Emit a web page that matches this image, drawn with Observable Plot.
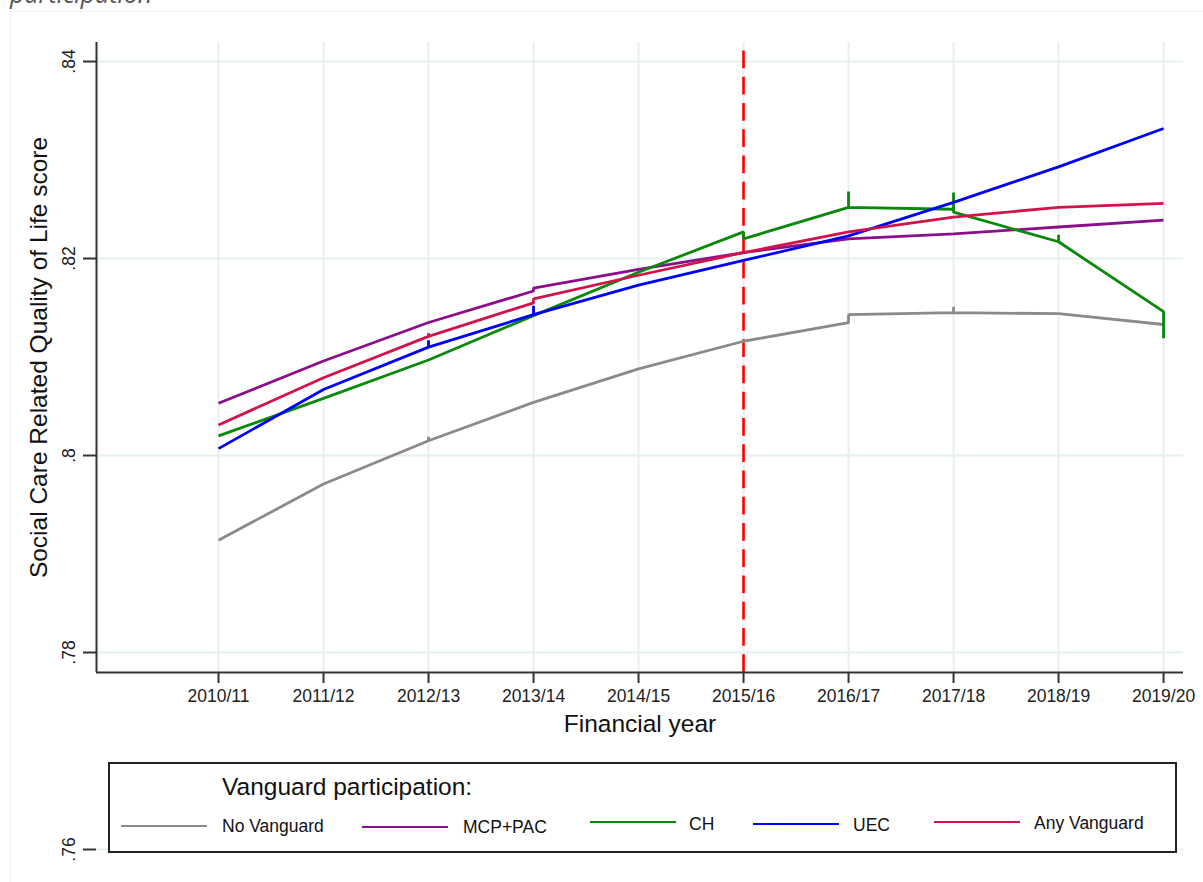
<!DOCTYPE html>
<html>
<head>
<meta charset="utf-8">
<script src="https://cdn.jsdelivr.net/npm/d3@7"></script>
<script src="https://cdn.jsdelivr.net/npm/@observablehq/plot@0.6"></script>
<style>
  html, body { margin: 0; padding: 0; background: #fff; }
  body { width: 1203px; height: 882px; position: relative; overflow: hidden; font-family: "Liberation Sans", Arial, sans-serif; }
  #frame { position: absolute; left: 10px; top: 11px; right: -5px; bottom: -5px; border-left: 1px solid #f3f3f3; border-top: 1px solid #f3f3f3; }
  #cut { position: absolute; left: 10px; top: -24px; font-family: "Open Sans", sans-serif; font-style: italic; font-size: 25px; color: #555; white-space: nowrap; }
  #chart { position: absolute; left: 0; top: 0; }
  #legend { position: absolute; left: 108px; top: 762px; width: 1069px; height: 91px; box-sizing: border-box; border: 2px solid #222; background: #fff; }
  #legend span { position: absolute; white-space: nowrap; line-height: 1; color: #111; }
  #legend .sw { position: absolute; height: 2.8px; }
</style>
</head>
<body>
<div id="frame"></div>
<div id="cut">participation</div>
<div id="chart"></div>
<div id="legend"></div>
<script>
// ---- data ----
const years = ["2010/11","2011/12","2012/13","2013/14","2014/15","2015/16","2016/17","2017/18","2018/19","2019/20"];
const seriesNames = ["No Vanguard","MCP+PAC","CH","UEC","Any Vanguard"];
const seriesColors = ["#8a8a8a","#8b0f8b","#0a880a","#0000ff","#d0144a"];
// an inner list = several values drawn at the same year (steps / spikes)
const noVanguard  = [0.7914, 0.7971, [0.8015, 0.8019, 0.8015], 0.8054, 0.8088, 0.8116, [0.8135, 0.8143], [0.8145, 0.8151, 0.8145], 0.8144, 0.8133];
const mcpPac      = [0.8053, 0.8096, 0.8135, [0.8167, 0.8170], 0.8189, 0.8206, 0.8220, 0.8225, 0.8232, 0.8239];
const ch          = [0.8020, 0.8058, 0.8097, 0.8142, 0.8186, [0.8227, 0.8220], [0.8252, 0.8268, 0.8252], [0.8250, 0.8267, 0.8247], [0.8217, 0.8224, 0.8217], [0.8146, 0.8119]];
const uec         = [0.8007, 0.8067, [0.8110, 0.8117, 0.8110], [0.8143, 0.8152, 0.8143], 0.8173, 0.8198, 0.8223, 0.8257, 0.8293, 0.8332];
const anyVanguard = [0.8031, 0.8079, [0.8121, 0.8124, 0.8121], [0.8155, 0.8159], 0.8183, 0.8206, 0.8227, 0.8242, 0.8252, 0.8256];
const yTicks = [0.76, 0.78, 0.80, 0.82, 0.84];
const yTickLabels = [".76", ".78", ".8", ".82", ".84"];
const policyYear = "2015/16";
const xTitle = "Financial year";
const yTitle = "Social Care Related Quality of Life score";
const legendTitle = "Vanguard participation:";

// ---- build table ----
const allSeries = [noVanguard, mcpPac, ch, uec, anyVanguard];
const points = [];
allSeries.forEach((vals, s) => {
  vals.forEach((v, i) => {
    [].concat(v).forEach(y => points.push({series: seriesNames[s], i, v: y}));
  });
});
const xIdx = d3.range(years.length);

const font = '"Liberation Sans", Arial, sans-serif';
const grid = "#e6eff2";
const axisColor = "#333";

const chart = Plot.plot({
  width: 1203,
  height: 882,
  marginLeft: 96,
  marginRight: 20,
  marginTop: 42,
  marginBottom: 210,
  style: {fontFamily: font, fontSize: "17.5px", color: "#222", background: "transparent"},
  x: {type: "linear", domain: [-1.162, 9.19], axis: null},
  y: {domain: [0.77797, 0.84193], axis: null},
  color: {domain: seriesNames, range: seriesColors},
  marks: [
    Plot.gridY(yTicks, {stroke: grid, strokeOpacity: 1, strokeWidth: 2}),
    Plot.gridX(xIdx, {stroke: grid, strokeOpacity: 1, strokeWidth: 2}),
    Plot.ruleX([years.indexOf(policyYear)], {y1: 0.77797, y2: 0.84107, stroke: "#ff0000", strokeWidth: 2.6, strokeDasharray: "17.8,8.45"}),
    Plot.line(points, {x: "i", y: "v", z: "series", stroke: "series", strokeWidth: 2.8, strokeLinejoin: "miter", strokeLinecap: "butt"}),
    Plot.ruleX([-1.162], {stroke: axisColor, strokeWidth: 2}),
    Plot.ruleY([0.77797], {stroke: axisColor, strokeWidth: 2}),
    Plot.axisX(xIdx, {anchor: "bottom", label: null, tickSize: 11, tickPadding: 6, tickFormat: i => years[i], fontSize: 17.5, stroke: axisColor, strokeWidth: 2, fill: "#222"}),
    Plot.axisY(yTicks, {anchor: "left", label: null, tickSize: 13, tickFormat: () => "", stroke: axisColor, strokeWidth: 2}),
    Plot.text(yTicks, {frameAnchor: "left", y: d => d, text: (d, k) => yTickLabels[k], rotate: -90, dx: -22, textAnchor: "middle", lineAnchor: "bottom", fontSize: 17.5, fill: "#222"}),
    Plot.text([xTitle], {frameAnchor: "bottom", dy: 59, lineAnchor: "bottom", textAnchor: "middle", fontSize: 24.5, fill: "#111"}),
    Plot.text([yTitle], {frameAnchor: "left", dx: -50, rotate: -90, lineAnchor: "bottom", textAnchor: "middle", fontSize: 24.5, fill: "#111"})
  ]
});
document.getElementById("chart").appendChild(chart);

// ---- legend ----
const lg = document.getElementById("legend");
const inner = {x: 110, y: 764};
function span(text, left, baseline, fs) {
  const el = document.createElement("span");
  el.textContent = text;
  el.style.fontSize = fs + "px";
  el.style.left = (left - inner.x) + "px";
  el.style.top = (baseline - 0.8465 * fs - inner.y) + "px";
  lg.appendChild(el);
}
span(legendTitle, 222, 796, 24.5);
const swatchX = [121, 362, 590, 753, 934];
const swatchY = [826, 827, 822, 824, 822];
const labelX = [222, 463, 689, 853, 1034];
const labelBase = [833, 834, 831, 832, 830];
seriesNames.forEach((name, k) => {
  const sw = document.createElement("div");
  sw.className = "sw";
  sw.style.left = (swatchX[k] - inner.x) + "px";
  sw.style.width = "86px";
  sw.style.top = (swatchY[k] - 1.4 - inner.y) + "px";
  sw.style.background = seriesColors[k];
  lg.appendChild(sw);
  span(name, labelX[k], labelBase[k], 17.5);
});
</script>
</body>
</html>
